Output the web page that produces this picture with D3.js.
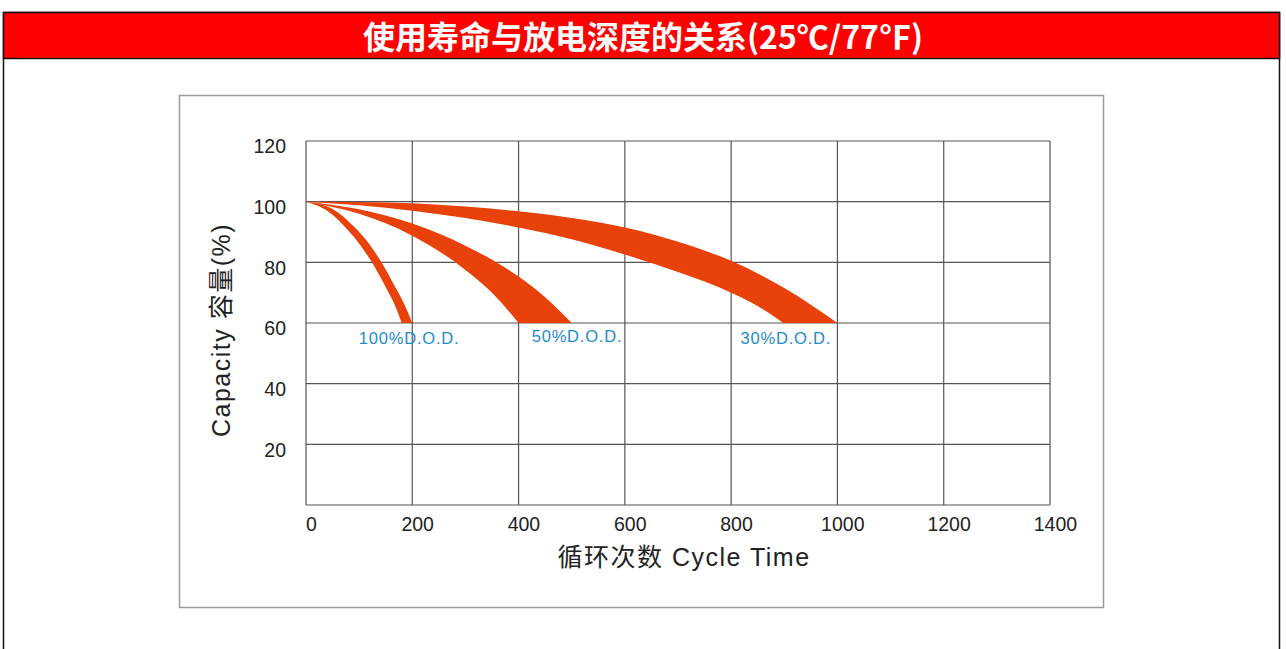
<!DOCTYPE html>
<html lang="zh">
<head>
<meta charset="utf-8">
<title>使用寿命与放电深度的关系</title>
<style>
  body { margin: 0; background: #fff; }
  svg { display: block; }
</style>
</head>
<body>
<script src="https://cdn.jsdelivr.net/npm/d3@7/dist/d3.min.js"></script>
<script>
// 数据: [循环次数, 容量%]
var dod100Outer = [[0,100],[50,97.6],[90,91.8],[120,85.8],[142,80],[165,72.8],[185,66.2],[200,60]];
var dod100Inner = [[0,100],[40,97],[77,91],[105,85],[124,80],[150,71.8],[168,65.6],[180,60]];
var dod50Outer = [[0,100],[100,97.5],[200,92.8],[300,85.5],[400,75.3],[450,68.5],[500,60]];
var dod50Inner = [[0,100],[100,96],[200,88.8],[300,77.5],[350,70],[400,60]];
var dod30Outer = [[0,100],[100,99.9],[200,99.5],[300,98.4],[400,96.8],[500,94.6],[600,91.5],[700,86.8],[800,80.5],[900,71.5],[1000,60]];
var dod30Inner = [[0,100],[100,98.8],[200,97],[300,94.6],[400,91.5],[500,87.6],[600,82.6],[700,76.8],[800,70],[850,65.6],[898,60]];

var dodLabels = ["100%D.O.D.", "50%D.O.D.", "30%D.O.D."];
var labelCycle = [194, 510, 903];
var labelCap = [53, 53.6, 53];

var xTicks = [0,200,400,600,800,1000,1200,1400];
var yTicks = [20,40,60,80,100,120];

var W = 1286, H = 649;
var svg = d3.select("body").append("svg").attr("width", W).attr("height", H);

// 外框与标题栏
svg.append("rect").attr("x", 3.5).attr("y", 12.5).attr("width", 1276).attr("height", 660)
  .attr("fill", "#fff").attr("stroke", "#111").attr("stroke-width", 1.5);
svg.append("rect").attr("x", 3.5).attr("y", 12.5).attr("width", 1276).attr("height", 46)
  .attr("fill", "#ff0000").attr("stroke", "#111").attr("stroke-width", 1.5);
svg.append("text").attr("x", 643).attr("y", 49)
  .attr("text-anchor", "middle")
  .attr("font-family", "'Noto Sans CJK SC', sans-serif")
  .attr("font-weight", "bold").attr("font-size", 32).attr("fill", "#fff")
  .text("使用寿命与放电深度的关系(25℃/77℉)");

// 内框
svg.append("rect").attr("x", 179.5).attr("y", 95.5).attr("width", 924).attr("height", 512)
  .attr("fill", "none").attr("stroke", "#9a9a9a").attr("stroke-width", 1.5);

var x = d3.scaleLinear().domain([0, 1400]).range([306, 1050]);
var y = d3.scaleLinear().domain([0, 120]).range([505, 141]);

// 网格
svg.append("g").selectAll("line").data(xTicks).enter().append("line")
  .attr("x1", function(d){ return x(d); }).attr("x2", function(d){ return x(d); })
  .attr("y1", y(0)).attr("y2", y(120))
  .attr("stroke", "#555").attr("stroke-width", 1.2);
svg.append("g").selectAll("line").data([0].concat(yTicks)).enter().append("line")
  .attr("x1", x(0)).attr("x2", x(1400))
  .attr("y1", function(d){ return y(d); }).attr("y2", function(d){ return y(d); })
  .attr("stroke", "#555").attr("stroke-width", 1.2);

// 曲线带
var line = d3.line()
  .x(function(d){ return x(d[0]); })
  .y(function(d){ return y(d[1]); })
  .curve(d3.curveMonotoneX);

function band(outer, inner) {
  var back = inner.slice().reverse();
  return line(outer) + "L" + line(back).slice(1) + "Z";
}

var bands = [[dod100Outer, dod100Inner], [dod50Outer, dod50Inner], [dod30Outer, dod30Inner]];
svg.append("g").selectAll("path").data(bands).enter().append("path")
  .attr("d", function(d){ return band(d[0], d[1]); })
  .attr("fill", "#e8410a");

// 标签
svg.append("g").selectAll("text").data(dodLabels).enter().append("text")
  .attr("x", function(d, i){ return x(labelCycle[i]); })
  .attr("y", function(d, i){ return y(labelCap[i]); })
  .attr("text-anchor", "middle")
  .attr("font-family", "'Liberation Sans', Arial, sans-serif")
  .attr("font-size", 16.5).attr("letter-spacing", 0.8).attr("fill", "#1d8bc9")
  .text(function(d){ return d; });

// 坐标轴刻度
var yAxis = d3.axisLeft(y).tickValues(yTicks).tickSize(0).tickPadding(20);
var gy = svg.append("g").attr("transform", "translate(" + x(0) + ",0)").call(yAxis);
var xAxis = d3.axisBottom(x).tickValues(xTicks).tickFormat(d3.format("d")).tickSize(0).tickPadding(12);
var gx = svg.append("g").attr("transform", "translate(0," + y(0) + ")").call(xAxis);
[gx, gy].forEach(function(g){
  g.select(".domain").remove();
  g.selectAll("text")
    .attr("font-family", "'Liberation Sans', Arial, sans-serif")
    .attr("font-size", 19.5).attr("fill", "#222");
});
gy.selectAll("text").attr("dy", "0.6em");
gx.selectAll("text").attr("dx", "0.25em").attr("dy", "0.72em");

// 轴标题
svg.append("text")
  .attr("transform", "translate(230," + 330 + ") rotate(-90)")
  .attr("text-anchor", "middle")
  .attr("font-family", "'Liberation Sans', 'Noto Sans CJK SC', sans-serif")
  .attr("font-size", 25).attr("letter-spacing", 1.5).attr("fill", "#222")
  .text("Capacity 容量(%)");
svg.append("text")
  .attr("x", 684).attr("y", 566)
  .attr("text-anchor", "middle")
  .attr("font-family", "'Liberation Sans', 'Noto Sans CJK SC', sans-serif")
  .attr("font-size", 25).attr("letter-spacing", 1.5).attr("fill", "#222")
  .text("循环次数 Cycle Time");
</script>
</body>
</html>
